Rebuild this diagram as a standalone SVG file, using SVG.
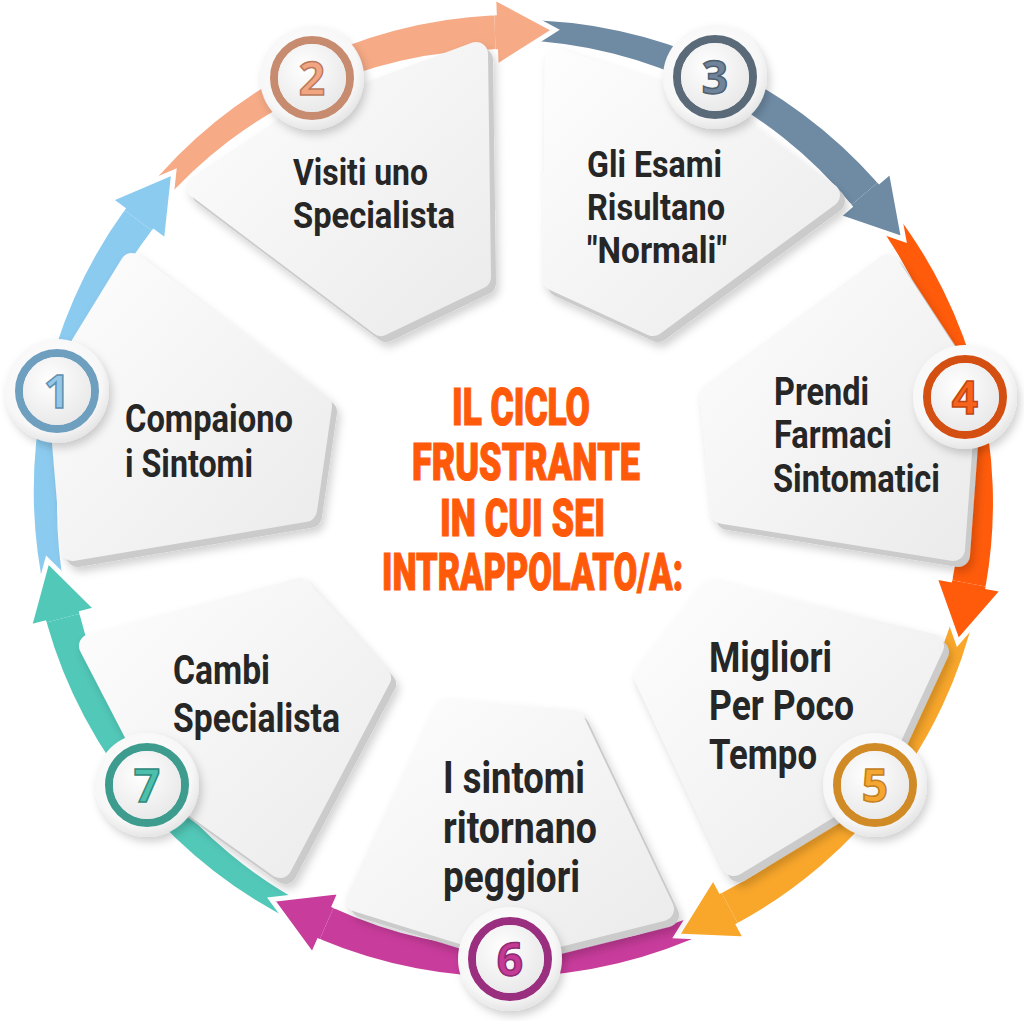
<svg xmlns="http://www.w3.org/2000/svg" xmlns:xlink="http://www.w3.org/1999/xlink" width="1024" height="1021" viewBox="0 0 1024 1021">
<style>
.side{fill:#cbcbcb;stroke:#cbcbcb;stroke-width:24;stroke-linejoin:round}
.face{fill:url(#cardGrad);stroke:url(#cardGrad);stroke-width:24;stroke-linejoin:round}
.lbl{font-family:Roboto,"Liberation Sans",sans-serif;font-weight:700;fill:#262626}
.ttl{font-family:Roboto,"Liberation Sans",sans-serif;font-weight:900;font-size:51px;fill:#ff5a0a;stroke:#ff5a0a;stroke-width:1.2}
.num{font-family:"Open Sans","Liberation Sans",sans-serif;font-weight:700;font-size:46px;text-anchor:middle;stroke-width:1.5}
.head{stroke:#fff;stroke-width:5;stroke-linejoin:miter}
</style>
<defs>
<linearGradient id="cardGrad" x1="0" y1="0" x2="1" y2="1">
<stop offset="0" stop-color="#fdfdfd"/><stop offset="1" stop-color="#ebebeb"/>
</linearGradient>
<radialGradient id="discGrad" cx="0.45" cy="0.4" r="0.6">
<stop offset="0" stop-color="#ffffff"/><stop offset="0.8" stop-color="#f7f7f7"/><stop offset="1" stop-color="#e6e6e6"/>
</radialGradient>
<radialGradient id="innerGrad" cx="0.4" cy="0.35" r="0.7">
<stop offset="0" stop-color="#ffffff"/><stop offset="1" stop-color="#e8e8e8"/>
</radialGradient>
<filter id="sh" x="-20%" y="-20%" width="140%" height="140%">
<feDropShadow dx="3" dy="5" stdDeviation="4" flood-color="#000" flood-opacity="0.18"/>
</filter>
<path id="body" d="M-201.6,-432.3 A479,479 0 0 1 192.2,-442.0 L178.6,-410.9 A452,452 0 0 0 -193.1,-414.2 Z"/>
<path id="head" d="M178.6,-410.9 L171.4,-394.4 L240.4,-402.6 L199.4,-458.6 L192.2,-442.0"/>
</defs>
<rect width="1024" height="1021" fill="#ffffff"/>

<g id="connectors">
<use xlink:href="#body" fill="#8ccbf0" transform="translate(512,497) rotate(283)"/>
<use xlink:href="#body" fill="#f6aa86" transform="translate(512,497) rotate(334.4)"/>
<use xlink:href="#body" fill="#6f8ba4" transform="translate(512,497) rotate(25.8)"/>
<use xlink:href="#body" fill="#ff5b0b" transform="translate(512,497) rotate(77.2)"/>
<use xlink:href="#body" fill="#f9a72b" transform="translate(512,497) rotate(128.6)"/>
<use xlink:href="#body" fill="#c83c9b" transform="translate(512,497) rotate(180)"/>
<use xlink:href="#body" fill="#52c8b8" transform="translate(512,497) rotate(231.4)"/>
<use xlink:href="#head" class="head" fill="#8ccbf0" transform="translate(512,497) rotate(283)"/>
<use xlink:href="#head" class="head" fill="#f6aa86" transform="translate(512,497) rotate(334.4)"/>
<use xlink:href="#head" class="head" fill="#6f8ba4" transform="translate(512,497) rotate(25.8)"/>
<use xlink:href="#head" class="head" fill="#ff5b0b" transform="translate(512,497) rotate(77.2)"/>
<use xlink:href="#head" class="head" fill="#f9a72b" transform="translate(512,497) rotate(128.6)"/>
<use xlink:href="#head" class="head" fill="#c83c9b" transform="translate(512,497) rotate(180)"/>
<use xlink:href="#head" class="head" fill="#52c8b8" transform="translate(512,497) rotate(231.4)"/>
</g>

<g id="node-1">
<g filter="url(#sh)">
<polygon class="side" points="137,271 325,412 310,516 78,555 64,390"/>
<polygon class="face" points="132,265 320,406 305,510 73,549 59,384"/>
</g>
<text class="lbl" font-size="38" x="125" y="432" textLength="168" lengthAdjust="spacingAndGlyphs">Compaiono</text>
<text class="lbl" font-size="38" x="125" y="477" textLength="128" lengthAdjust="spacingAndGlyphs">i Sintomi</text>
<g filter="url(#sh)"><circle cx="57" cy="391" r="52" fill="url(#discGrad)"/></g>
<circle cx="57" cy="391" r="38" fill="none" stroke="#6f9fbf" stroke-width="8"/>
<circle cx="57" cy="391" r="34" fill="url(#innerGrad)"/>
<text class="num" x="57" y="408" fill="#93c9e6" stroke="#5f90b0">1</text>
</g>

<g id="node-2">
<g filter="url(#sh)">
<polygon class="side" points="204,193 304,126 481,60 484,283 386,330"/>
<polygon class="face" points="199,187 299,120 476,54 479,277 381,324"/>
</g>
<text class="lbl" font-size="37" x="293" y="185" textLength="135" lengthAdjust="spacingAndGlyphs">Visiti uno</text>
<text class="lbl" font-size="37" x="293" y="228" textLength="162" lengthAdjust="spacingAndGlyphs">Specialista</text>
<g filter="url(#sh)"><circle cx="312" cy="78" r="52" fill="url(#discGrad)"/></g>
<circle cx="312" cy="78" r="38" fill="none" stroke="#c78b6f" stroke-width="8"/>
<circle cx="312" cy="78" r="34" fill="url(#innerGrad)"/>
<text class="num" x="312" y="95" fill="#f2a581" stroke="#b97a5e">2</text>
</g>

<g id="node-3">
<g filter="url(#sh)">
<polygon class="side" points="562,67 718,117 833,201 658,330 560,285"/>
<polygon class="face" points="557,61 713,111 828,195 653,324 555,279"/>
</g>
<text class="lbl" font-size="37" x="587" y="177" textLength="135" lengthAdjust="spacingAndGlyphs">Gli Esami</text>
<text class="lbl" font-size="37" x="587" y="220" textLength="138" lengthAdjust="spacingAndGlyphs">Risultano</text>
<text class="lbl" font-size="37" x="587" y="263" textLength="140" lengthAdjust="spacingAndGlyphs">"Normali"</text>
<g filter="url(#sh)"><circle cx="715" cy="77" r="52" fill="url(#discGrad)"/></g>
<circle cx="715" cy="77" r="38" fill="none" stroke="#5a6a79" stroke-width="8"/>
<circle cx="715" cy="77" r="34" fill="url(#innerGrad)"/>
<text class="num" x="715" y="94" fill="#6f849a" stroke="#4f5f6f">3</text>
</g>

<g id="node-4">
<g filter="url(#sh)">
<polygon class="side" points="893,272 717,401 728,518 958,555 970,390"/>
<polygon class="face" points="888,266 712,395 723,512 953,549 965,384"/>
</g>
<text class="lbl" font-size="38" x="774" y="405" textLength="95" lengthAdjust="spacingAndGlyphs">Prendi</text>
<text class="lbl" font-size="38" x="774" y="448" textLength="118" lengthAdjust="spacingAndGlyphs">Farmaci</text>
<text class="lbl" font-size="38" x="773" y="492" textLength="167" lengthAdjust="spacingAndGlyphs">Sintomatici</text>
<g filter="url(#sh)"><circle cx="965" cy="397" r="52" fill="url(#discGrad)"/></g>
<circle cx="965" cy="397" r="38" fill="none" stroke="#d44f12" stroke-width="8"/>
<circle cx="965" cy="397" r="34" fill="url(#innerGrad)"/>
<text class="num" x="965" y="414" fill="#f7631c" stroke="#c04810">4</text>
</g>

<g id="node-5">
<g filter="url(#sh)">
<polygon class="side" points="716,598 937,652 874,788 739,870 651,682"/>
<polygon class="face" points="711,592 932,646 869,782 734,864 646,676"/>
</g>
<text class="lbl" font-size="42" x="709" y="672" textLength="123" lengthAdjust="spacingAndGlyphs">Migliori</text>
<text class="lbl" font-size="42" x="709" y="720" textLength="145" lengthAdjust="spacingAndGlyphs">Per Poco</text>
<text class="lbl" font-size="42" x="709" y="769" textLength="108" lengthAdjust="spacingAndGlyphs">Tempo</text>
<g filter="url(#sh)"><circle cx="875" cy="785" r="52" fill="url(#discGrad)"/></g>
<circle cx="875" cy="785" r="38" fill="none" stroke="#d18b26" stroke-width="8"/>
<circle cx="875" cy="785" r="34" fill="url(#innerGrad)"/>
<text class="num" x="875" y="802" fill="#f4a630" stroke="#c28020">5</text>
</g>

<g id="node-6">
<g filter="url(#sh)">
<polygon class="side" points="451,717 578,728 667,915 515,953 363,906"/>
<polygon class="face" points="446,711 573,722 662,909 510,947 358,900"/>
</g>
<text class="lbl" font-size="44" x="443" y="793" textLength="142" lengthAdjust="spacingAndGlyphs">I sintomi</text>
<text class="lbl" font-size="44" x="443" y="843" textLength="154" lengthAdjust="spacingAndGlyphs">ritornano</text>
<text class="lbl" font-size="44" x="443" y="892" textLength="137" lengthAdjust="spacingAndGlyphs">peggiori</text>
<g filter="url(#sh)"><circle cx="510" cy="959" r="52" fill="url(#discGrad)"/></g>
<circle cx="510" cy="959" r="38" fill="none" stroke="#9b2f7f" stroke-width="8"/>
<circle cx="510" cy="959" r="34" fill="url(#innerGrad)"/>
<text class="num" x="510" y="976" fill="#c43b96" stroke="#8f2a74">6</text>
</g>

<g id="node-7">
<g filter="url(#sh)">
<polygon class="side" points="96,652 304,596 384,684 285,872 166,787"/>
<polygon class="face" points="91,646 299,590 379,678 280,866 161,781"/>
</g>
<text class="lbl" font-size="41" x="173" y="684" textLength="97" lengthAdjust="spacingAndGlyphs">Cambi</text>
<text class="lbl" font-size="41" x="173" y="732" textLength="167" lengthAdjust="spacingAndGlyphs">Specialista</text>
<g filter="url(#sh)"><circle cx="147" cy="785" r="52" fill="url(#discGrad)"/></g>
<circle cx="147" cy="785" r="38" fill="none" stroke="#3d9c8e" stroke-width="8"/>
<circle cx="147" cy="785" r="34" fill="url(#innerGrad)"/>
<text class="num" x="147" y="802" fill="#4cbfad" stroke="#2f8a7c">7</text>
</g>

<g id="title">
<text class="ttl" x="452" y="425" textLength="138" lengthAdjust="spacingAndGlyphs">IL CICLO</text>
<text class="ttl" x="412" y="480" textLength="228" lengthAdjust="spacingAndGlyphs">FRUSTRANTE</text>
<text class="ttl" x="440" y="536" textLength="165" lengthAdjust="spacingAndGlyphs">IN CUI SEI</text>
<text class="ttl" x="382" y="590" textLength="301" lengthAdjust="spacingAndGlyphs">INTRAPPOLATO/A:</text>
</g>
</svg>
